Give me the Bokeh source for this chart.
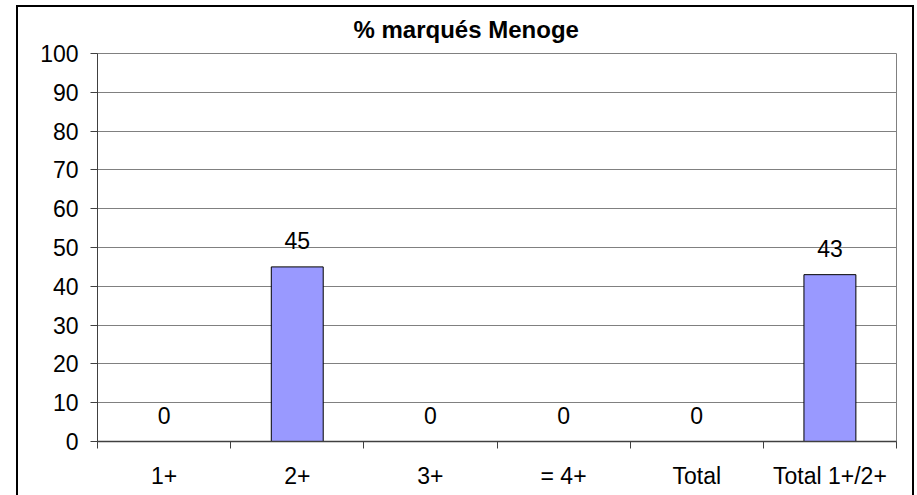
from bokeh.plotting import figure
from bokeh.models import FixedTicker, Range1d
from bokeh.embed import file_html
from bokeh.resources import INLINE
from bokeh.core.properties import value

# ---- data ----
categories = ["1+", "2+", "3+", "= 4+", "Total", "Total 1+/2+"]
values = [0, 45, 0, 0, 0, 43]
y_ticks = [0, 10, 20, 30, 40, 50, 60, 70, 80, 90, 100]
subtitle = "% marqués Menoge"

FONT = "Liberation Sans"
FS = "23px"

xs = [i + 0.5 for i in range(len(categories))]

p = figure(width=917, height=495, output_backend="svg", toolbar_location=None,
           x_range=Range1d(0, len(categories)), y_range=Range1d(0, 100),
           min_border_left=97, min_border_right=21, min_border_top=53,
           min_border_bottom=54, background_fill_color="white",
           border_fill_color=None, title=subtitle)

# outer chart border (bottom edge is outside the window), painted behind the
# transparent border area of the canvas
line = "linear-gradient(#000, #000)"
p.styles = {"background": (f"{line} 16px 5px / 2px 490px no-repeat, "
                           f"{line} 16px 5px / 898px 2px no-repeat, "
                           f"{line} 912px 5px / 2px 490px no-repeat, #ffffff")}

p.title.align = "left"
p.title.offset = 256
p.title.standoff = 22
p.title.text_font = FONT
p.title.text_font_size = "24px"
p.title.text_font_style = "bold"
p.title.text_color = "black"

p.outline_line_color = "#808080"
p.outline_line_width = 1

# bars (only non-zero values are visible as bars)
bar_x = [x for x, v in zip(xs, values) if v > 0]
bar_top = [v for v in values if v > 0]
p.vbar(x=bar_x, top=bar_top, bottom=0, width=0.39, fill_color="#9999FF",
       line_color="black", line_width=1)

# value labels
p.text(x=xs, y=values, text=[str(v) for v in values], text_align="center",
       text_baseline="middle", y_offset=-26, text_font=value(FONT),
       text_font_size=FS, text_color="black")

# x axis
p.xaxis.ticker = FixedTicker(ticks=xs, minor_ticks=list(range(len(categories) + 1)))
p.xaxis.major_label_overrides = {x: c for x, c in zip(xs, categories)}
p.xaxis.major_tick_out = 0
p.xaxis.major_tick_in = 0
p.xaxis.minor_tick_out = 7
p.xaxis.minor_tick_in = 0
p.xaxis.minor_tick_line_color = "#404040"
p.xaxis.axis_line_color = "#404040"
p.xaxis.axis_line_width = 1.5
p.xaxis.major_label_standoff = 14
p.xgrid.visible = False

# y axis
p.yaxis.ticker = FixedTicker(ticks=y_ticks, minor_ticks=[])
p.yaxis.major_tick_out = 7
p.yaxis.major_tick_in = 0
p.yaxis.major_tick_line_color = "#404040"
p.yaxis.axis_line_color = "#404040"
p.yaxis.major_label_standoff = 12
p.ygrid.ticker = FixedTicker(ticks=y_ticks, minor_ticks=[])
p.ygrid.grid_line_color = "#808080"
p.ygrid.grid_line_width = 1

for ax in (p.xaxis, p.yaxis):
    ax.major_label_text_font = FONT
    ax.major_label_text_font_size = FS
    ax.major_label_text_color = "black"

open("out.html", "w").write(file_html(p, INLINE))
